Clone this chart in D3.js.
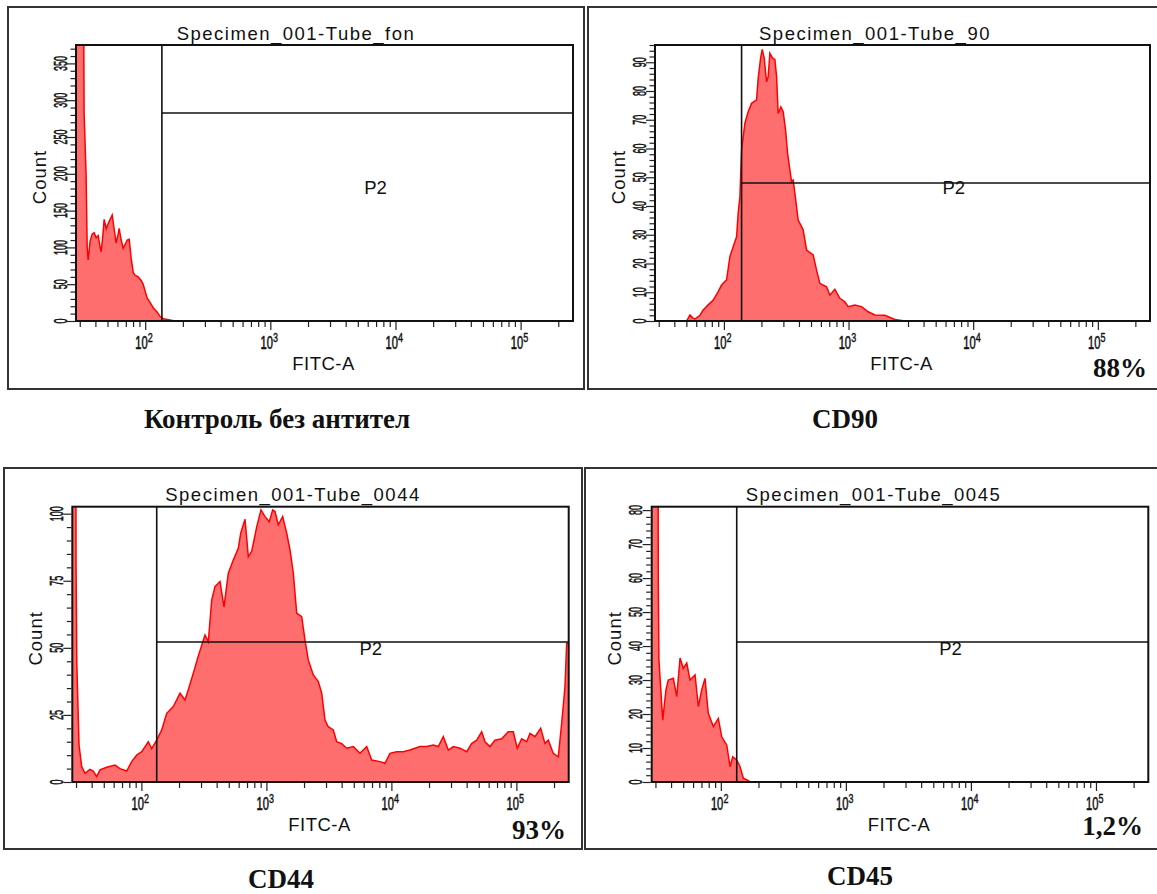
<!DOCTYPE html>
<html>
<head>
<meta charset="utf-8">
<script src="https://cdn.jsdelivr.net/npm/d3@7"></script>
<style>
  body { margin: 0; background: #fff; }
  svg { display: block; }
</style>
</head>
<body>
<div id="chart"></div>
<script>
// =============================
// DATA
// =============================
const titles = ["Specimen_001-Tube_fon", "Specimen_001-Tube_90", "Specimen_001-Tube_0044", "Specimen_001-Tube_0045"];
const captions = ["Контроль без антител", "CD90", "CD44", "CD45"];
const percents = ["", "88%", "93%", "1,2%"];
const xLabel = "FITC-A";
const yLabel = "Count";
const gateName = "P2";

const fitcRange = [28, 262144];
const xMajor = [1e2, 1e3, 1e4, 1e5];
const xMultiples = [2, 3, 4, 5, 6, 7, 8, 9];

const yMax = [375, 96, 102.6, 81];
const yMajorStep = [50, 10, 25, 10];
const yMinorStep = [10, 2, 5, 2];

// gate P2: FITC threshold and the level of the horizontal gate line
const gateFitc = [136, 138.6, 132.6, 134];
const gateCount = [282.6, 48, 52.2, 41.2];

// histograms: [FITC-A, Count]
const fonHist = [
  [28, 600], [31.9, 600], [32.5, 282], [33.7, 200], [34.4, 100], [35.0, 83], [36.3, 108], [37.7, 118],
  [39.1, 120], [40.6, 113], [42.1, 116], [43.7, 100], [44.5, 94], [46.1, 120], [47.0, 138], [48.8, 125],
  [49.7, 129], [51.5, 135], [54.5, 144], [56.5, 125], [58.6, 106], [60.8, 118], [61.9, 126], [64.3, 110],
  [66.7, 99], [69.2, 104], [71.8, 110], [74.5, 111], [77.3, 85], [80.2, 66], [83.2, 62], [87.9, 60],
  [92.9, 55], [96.4, 50], [100, 40], [103.8, 31], [109.6, 25], [115.9, 18], [124.7, 12], [131.8, 6],
  [139.3, 3], [150, 2], [161.4, 1], [170.6, 0]
];

const cd90Hist = [
  [50.2, 0], [53.4, 2.1], [56.4, 1], [58.5, 0.7], [64.2, 2], [68.2, 3.8], [74.8, 5.6], [82.1, 7.3],
  [90.0, 10.2], [95.8, 12.5], [105.1, 14.3], [111.7, 22.4], [118.7, 25.8], [126.4, 29.3], [130.2, 37.5],
  [134.4, 43.2], [138.6, 59.5], [147.4, 68.8], [156.6, 72.8], [166.8, 75.7], [182.9, 76.9], [188.4, 84.4],
  [197, 91.4], [202.9, 94.5], [210.5, 91.4], [220, 83.2], [226.6, 85], [233.8, 93.1], [245.8, 91.4],
  [256.4, 91], [264.6, 85], [272.5, 72.2], [286.5, 74.5], [298.9, 72.8], [312.5, 66.4], [324.3, 58.3],
  [349.1, 48.4], [359.6, 49], [371, 44.5], [394.3, 35.1], [432.4, 31.7], [460.5, 24.7], [520.2, 23],
  [553.8, 17.7], [588.8, 13.1], [666.3, 11.9], [708.1, 9], [776.8, 11], [851.6, 7.9], [933.9, 6.7],
  [992.7, 5], [1123, 5.6], [1272, 5], [1436, 3.2], [1625, 2.1], [1955, 2], [2352, 0.5], [2828, 0]
];

const cd44Hist = [
  [28, 300], [29.5, 300], [30.0, 81.5], [30.4, 45], [31.7, 13.8], [33.3, 5.7], [35.4, 3.2], [38.8, 4.7],
  [41.2, 4.1], [43.9, 2], [46.6, 4.5], [52.8, 5.5], [61.5, 6.3], [67.4, 5], [76.3, 4.1], [83.6, 7.6],
  [91.7, 10], [100.6, 11.3], [113.6, 15], [120.9, 12.4], [132.6, 15.6], [145.4, 19.4], [159.4, 25.6],
  [180, 28.1], [203.6, 33.1], [223.3, 30.6], [237.2, 34.4], [260.2, 40.5], [285.3, 47], [322.7, 54.8],
  [342.9, 52.2], [365.1, 67.8], [388, 72.8], [425.5, 74.7], [458, 65.3], [495.7, 77.8], [543.5, 82.7],
  [596, 87.1], [622.9, 92.7], [674.5, 97.9], [716.8, 84], [763.1, 86], [836.6, 95.1], [905.3, 101.4],
  [974.5, 98.9], [1055, 97], [1123, 101.4], [1172, 100.8], [1245, 95.8], [1350, 98.9], [1454, 92.7],
  [1545, 86.5], [1642, 77.8], [1748, 62.9], [1916, 61.6], [2036, 52.9], [2164, 45.5], [2372, 39.9],
  [2602, 37.4], [2770, 33.1], [2943, 23.1], [3128, 20.6], [3430, 19.4], [3651, 15], [4003, 14.3],
  [4389, 12.6], [4959, 13.2], [5609, 10.7], [6345, 13.2], [6957, 8.2], [8102, 7.6], [8887, 7],
  [9745, 10.7], [11025, 11.3], [12452, 11.3], [14084, 11.9], [16930, 13.2], [19158, 13.2], [21643, 13.8],
  [23731, 13.2], [26021, 16.9], [28532, 11.9], [31285, 13.2], [35384, 12.6], [40032, 11.3], [43894, 14.3],
  [48131, 15.6], [52775, 18.7], [56082, 15], [61497, 13.2], [67434, 15.6], [76281, 16.1], [86134, 18.7],
  [94457, 18.7], [101672, 12.6], [110255, 16.1], [120895, 15], [128466, 18.1], [140864, 16.9],
  [156460, 20], [169331, 14.3], [179935, 15.6], [197312, 10.7], [216369, 9.4], [230336, 21.9],
  [244778, 35.5], [252569, 51.7], [262144, 51.7]
];

const cd45Hist = [
  [28, 200], [31.3, 200], [31.6, 58.9], [32.0, 35.9], [34.3, 18.2], [36.4, 27.1], [38.0, 30], [41.7, 30.5],
  [44.4, 25.1], [47.2, 36.5], [50.1, 33.4], [53.4, 35], [56.7, 30], [62.2, 31.5], [66.1, 22.2], [70.3, 27.1],
  [74.7, 30.5], [79.4, 20.2], [87.1, 16.3], [95.5, 18.7], [101.7, 13.3], [111.5, 10.9], [118.5, 4.5],
  [124.5, 7.4], [134, 6.5], [142.4, 4.5], [151.4, 1.1], [166, 0.4], [171.3, 0]
];

const histograms = [fonHist, cd90Hist, cd44Hist, cd45Hist];

// =============================
// LAYOUT
// =============================
const width = 1157, height = 894;
const layout = [
  { frame: [8, 7, 584, 389],    plot: [76, 45, 573, 321],        caption: [277, 428],  pct: null },
  { frame: [588, 7, 1162, 389], plot: [655, 45, 1150, 321],      caption: [845, 428],  pct: [1147, 377] },
  { frame: [4, 468, 582, 849],  plot: [72.3, 506.7, 568.7, 782], caption: [281, 888],  pct: [566, 839] },
  { frame: [585, 468, 1162, 849], plot: [651.7, 506.7, 1148.3, 782], caption: [860, 885], pct: [1143, 835] }
];

const sans = "'Liberation Sans', Arial, sans-serif";
const serif = "'Liberation Serif', 'Times New Roman', serif";

const svg = d3.select("#chart").append("svg")
  .attr("width", width)
  .attr("height", height);

// minor ticks for log axis
const xMinor = [];
[1, 2, 3, 4, 5].forEach(k => {
  xMultiples.forEach(m => {
    const v = m * Math.pow(10, k);
    if (v > fitcRange[0] && v < fitcRange[1]) xMinor.push(v);
  });
});

// small helper for the squeezed tick font of the cytometer export
function tickText(sel, size) {
  return sel
    .attr("font-family", sans)
    .attr("font-size", size)
    .attr("fill", "#111")
    .attr("stroke", "#111")
    .attr("stroke-width", 0.6);
}

// =============================
// DRAW PANELS
// =============================
layout.forEach((L, i) => {
  const [fx0, fy0, fx1, fy1] = L.frame;
  const [px0, py0, px1, py1] = L.plot;

  const x = d3.scaleLog().domain(fitcRange).range([px0, px1]);
  const y = d3.scaleLinear().domain([0, yMax[i]]).range([py1, py0]);

  const g = svg.append("g");

  // outer frame
  g.append("rect")
    .attr("x", fx0).attr("y", fy0)
    .attr("width", fx1 - fx0).attr("height", fy1 - fy0)
    .attr("fill", "none")
    .attr("stroke", "#333")
    .attr("stroke-width", 2);

  // clip
  const clipId = "clip" + i;
  svg.append("clipPath").attr("id", clipId)
    .append("rect")
    .attr("x", px0).attr("y", py0)
    .attr("width", px1 - px0).attr("height", py1 - py0);

  // histogram
  const hist = histograms[i];
  const area = d3.area()
    .x(d => x(d[0]))
    .y0(y(0))
    .y1(d => y(d[1]));
  const line = d3.line()
    .x(d => x(d[0]))
    .y(d => y(d[1]));

  const hg = g.append("g").attr("clip-path", `url(#${clipId})`);
  hg.append("path")
    .datum(hist)
    .attr("d", area)
    .attr("fill", "#ff6e6e");
  hg.append("path")
    .datum(hist)
    .attr("d", line)
    .attr("fill", "none")
    .attr("stroke", "#ff0000")
    .attr("stroke-width", 1.5);

  // gate lines
  const gx = x(gateFitc[i]);
  const gy = y(gateCount[i]);
  g.append("line")
    .attr("x1", gx).attr("x2", gx)
    .attr("y1", py0).attr("y2", py1)
    .attr("stroke", "#111").attr("stroke-width", 1.6);
  g.append("line")
    .attr("x1", gx).attr("x2", px1)
    .attr("y1", gy).attr("y2", gy)
    .attr("stroke", "#111").attr("stroke-width", 1.6);

  // P2 label
  g.append("text")
    .attr("x", (gx + px1) / 2 + 8)
    .attr("y", (py0 + py1) / 2 + 10.5)
    .attr("text-anchor", "middle")
    .attr("font-family", sans)
    .attr("font-size", 18.5)
    .attr("fill", "#111")
    .text(gateName);

  // plot frame
  g.append("rect")
    .attr("x", px0).attr("y", py0)
    .attr("width", px1 - px0).attr("height", py1 - py0)
    .attr("fill", "none")
    .attr("stroke", "#111")
    .attr("stroke-width", 2);

  // x axis ticks
  const xAxisMinor = d3.axisBottom(x).tickValues(xMinor).tickSize(5).tickFormat("");
  const xAxisMajor = d3.axisBottom(x).tickValues(xMajor).tickSize(8).tickFormat("");
  [xAxisMinor, xAxisMajor].forEach(ax => {
    const a = g.append("g").attr("transform", `translate(0,${py1 + 1})`).call(ax);
    a.select(".domain").remove();
    a.selectAll("line").attr("stroke", "#222").attr("stroke-width", 1.2);
  });

  // x tick labels 10^k
  xMajor.forEach(v => {
    const tx = x(v), ty = py1 + 27.5;
    const exp = Math.round(Math.log10(v));
    const lg = g.append("g").attr("transform", `translate(${tx},${ty})`);
    tickText(lg.append("text"), 18)
      .attr("transform", "scale(0.62,1)")
      .attr("x", 2.5 / 0.62)
      .attr("text-anchor", "end")
      .text("10");
    tickText(lg.append("text"), 12)
      .attr("stroke-width", 0.4)
      .attr("transform", "translate(2.6,-7) scale(0.75,1)")
      .text(exp);
  });

  // y axis ticks
  const yMajors = d3.range(0, yMax[i] + 1e-6, yMajorStep[i]);
  const yMinors = d3.range(0, yMax[i] + 1e-6, yMinorStep[i]).filter(v => yMajors.indexOf(v) < 0);
  const yAxisMinor = d3.axisLeft(y).tickValues(yMinors).tickSize(4.5).tickFormat("");
  const yAxisMajor = d3.axisLeft(y).tickValues(yMajors).tickSize(8).tickFormat("");
  [yAxisMinor, yAxisMajor].forEach(ax => {
    const a = g.append("g").attr("transform", `translate(${px0 - 1},0)`).call(ax);
    a.select(".domain").remove();
    a.selectAll("line").attr("stroke", "#222").attr("stroke-width", 1.2);
  });

  // y tick labels, rotated and narrow
  yMajors.forEach(v => {
    tickText(
      g.append("g")
        .attr("transform", `translate(${px0 - 9.5},${y(v)}) rotate(-90)`)
        .append("text"), 18)
      .attr("transform", "scale(0.5,1)")
      .attr("text-anchor", "middle")
      .text(v);
  });

  // axis titles
  g.append("text")
    .attr("transform", `translate(${px0 - 30.5},${(py0 + py1) / 2 - 6}) rotate(-90)`)
    .attr("text-anchor", "middle")
    .attr("font-family", sans)
    .attr("font-size", 18.5)
    .attr("letter-spacing", 1)
    .attr("fill", "#111")
    .text(yLabel);

  g.append("text")
    .attr("x", (px0 + px1) / 2 - 1)
    .attr("y", py1 + 49)
    .attr("text-anchor", "middle")
    .attr("font-family", sans)
    .attr("font-size", 18.5)
    .attr("letter-spacing", 0.5)
    .attr("fill", "#111")
    .text(xLabel);

  // panel title (underscores sit right on the plot frame)
  g.append("text")
    .attr("x", (fx0 + fx1) / 2)
    .attr("y", py0 - 5.5)
    .attr("text-anchor", "middle")
    .attr("font-family", sans)
    .attr("font-size", 18.5)
    .attr("letter-spacing", 1.5)
    .attr("fill", "#111")
    .text(titles[i]);

  // percent
  if (L.pct) {
    g.append("text")
      .attr("x", L.pct[0])
      .attr("y", L.pct[1])
      .attr("text-anchor", "end")
      .attr("font-family", serif)
      .attr("font-weight", "bold")
      .attr("font-size", 27)
      .attr("fill", "#111")
      .text(percents[i]);
  }

  // caption under the panel
  svg.append("text")
    .attr("x", L.caption[0])
    .attr("y", L.caption[1])
    .attr("text-anchor", "middle")
    .attr("font-family", serif)
    .attr("font-weight", "bold")
    .attr("font-size", 27)
    .attr("fill", "#111")
    .text(captions[i]);
});
</script>
</body>
</html>
